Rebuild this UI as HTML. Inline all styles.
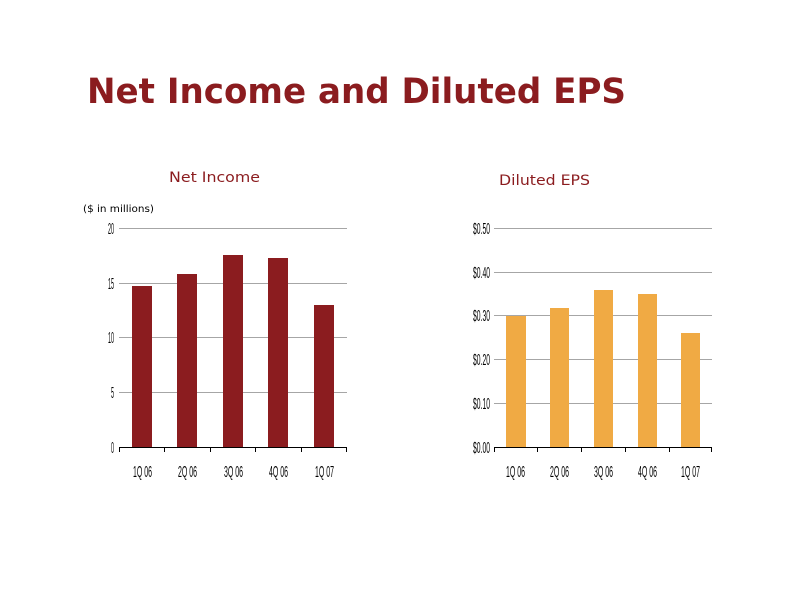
<!DOCTYPE html>
<html><head><meta charset="utf-8"><style>
html,body{margin:0;padding:0;background:#fff;}
svg{display:block;}
.t{font-family:"DejaVu Sans","Liberation Sans",sans-serif;}
.n{font-family:"Liberation Sans",sans-serif;font-size:16px;fill:#000;}
</style></head><body>
<svg width="800" height="600" viewBox="0 0 800 600">
<text class="t" x="87" y="103" font-size="35" font-weight="bold" fill="#8b1c1f" textLength="539" lengthAdjust="spacingAndGlyphs">Net Income and Diluted EPS</text>
<text class="t" x="169" y="182" font-size="14" fill="#8b1c1f" textLength="91" lengthAdjust="spacingAndGlyphs">Net Income</text>
<text class="t" x="499" y="185" font-size="14" fill="#8b1c1f" textLength="91" lengthAdjust="spacingAndGlyphs">Diluted EPS</text>
<text class="t" x="83" y="212" font-size="10" fill="#000" textLength="71" lengthAdjust="spacingAndGlyphs">($ in millions)</text>

<g stroke="#a6a6a6" stroke-width="1">
<line x1="119" y1="228.5" x2="347" y2="228.5"/>
<line x1="119" y1="283.5" x2="347" y2="283.5"/>
<line x1="119" y1="337.5" x2="347" y2="337.5"/>
<line x1="119" y1="392.5" x2="347" y2="392.5"/>
</g>
<g fill="#8b1c1f">
<rect x="132" y="286" width="20" height="161"/>
<rect x="177" y="274" width="20" height="173"/>
<rect x="223" y="255" width="20" height="192"/>
<rect x="268" y="258" width="20" height="189"/>
<rect x="314" y="305" width="20" height="142"/>
</g>
<g stroke="#000" stroke-width="1">
<line x1="119" y1="447.5" x2="347" y2="447.5"/>
<line x1="119.5" y1="447" x2="119.5" y2="452"/>
<line x1="164.5" y1="447" x2="164.5" y2="452"/>
<line x1="210.5" y1="447" x2="210.5" y2="452"/>
<line x1="255.5" y1="447" x2="255.5" y2="452"/>
<line x1="301.5" y1="447" x2="301.5" y2="452"/>
<line x1="346.5" y1="447" x2="346.5" y2="452"/>
</g>
<g class="n" text-anchor="end">
<text x="114" y="234" textLength="6" lengthAdjust="spacingAndGlyphs">20</text>
<text x="114" y="289" textLength="6" lengthAdjust="spacingAndGlyphs">15</text>
<text x="114" y="343" textLength="6" lengthAdjust="spacingAndGlyphs">10</text>
<text x="114" y="398" textLength="3" lengthAdjust="spacingAndGlyphs">5</text>
<text x="114" y="453" textLength="3" lengthAdjust="spacingAndGlyphs">0</text>
</g>
<g class="n">
<text x="133" y="477" textLength="19" lengthAdjust="spacingAndGlyphs">1Q 06</text>
<text x="178" y="477" textLength="19" lengthAdjust="spacingAndGlyphs">2Q 06</text>
<text x="224" y="477" textLength="19" lengthAdjust="spacingAndGlyphs">3Q 06</text>
<text x="269" y="477" textLength="19" lengthAdjust="spacingAndGlyphs">4Q 06</text>
<text x="315" y="477" textLength="19" lengthAdjust="spacingAndGlyphs">1Q 07</text>
</g>

<g stroke="#a6a6a6" stroke-width="1">
<line x1="494" y1="228.5" x2="712" y2="228.5"/>
<line x1="494" y1="272.5" x2="712" y2="272.5"/>
<line x1="494" y1="315.5" x2="712" y2="315.5"/>
<line x1="494" y1="359.5" x2="712" y2="359.5"/>
<line x1="494" y1="403.5" x2="712" y2="403.5"/>
</g>
<g fill="#f0aa44">
<rect x="506" y="316" width="20" height="131"/>
<rect x="550" y="308" width="19" height="139"/>
<rect x="594" y="290" width="19" height="157"/>
<rect x="638" y="294" width="19" height="153"/>
<rect x="681" y="333" width="19" height="114"/>
</g>
<g stroke="#000" stroke-width="1">
<line x1="494" y1="447.5" x2="712" y2="447.5"/>
<line x1="494.5" y1="447" x2="494.5" y2="452"/>
<line x1="537.5" y1="447" x2="537.5" y2="452"/>
<line x1="581.5" y1="447" x2="581.5" y2="452"/>
<line x1="625.5" y1="447" x2="625.5" y2="452"/>
<line x1="669.5" y1="447" x2="669.5" y2="452"/>
<line x1="711.5" y1="447" x2="711.5" y2="452"/>
</g>
<g class="n" text-anchor="end">
<text x="490" y="234" textLength="17" lengthAdjust="spacingAndGlyphs">$0.50</text>
<text x="490" y="278" textLength="17" lengthAdjust="spacingAndGlyphs">$0.40</text>
<text x="490" y="321" textLength="17" lengthAdjust="spacingAndGlyphs">$0.30</text>
<text x="490" y="365" textLength="17" lengthAdjust="spacingAndGlyphs">$0.20</text>
<text x="490" y="409" textLength="17" lengthAdjust="spacingAndGlyphs">$0.10</text>
<text x="490" y="453" textLength="17" lengthAdjust="spacingAndGlyphs">$0.00</text>
</g>
<g class="n">
<text x="506" y="477" textLength="19" lengthAdjust="spacingAndGlyphs">1Q 06</text>
<text x="550" y="477" textLength="19" lengthAdjust="spacingAndGlyphs">2Q 06</text>
<text x="594" y="477" textLength="19" lengthAdjust="spacingAndGlyphs">3Q 06</text>
<text x="638" y="477" textLength="19" lengthAdjust="spacingAndGlyphs">4Q 06</text>
<text x="681" y="477" textLength="19" lengthAdjust="spacingAndGlyphs">1Q 07</text>
</g>
</svg>
</body></html>
